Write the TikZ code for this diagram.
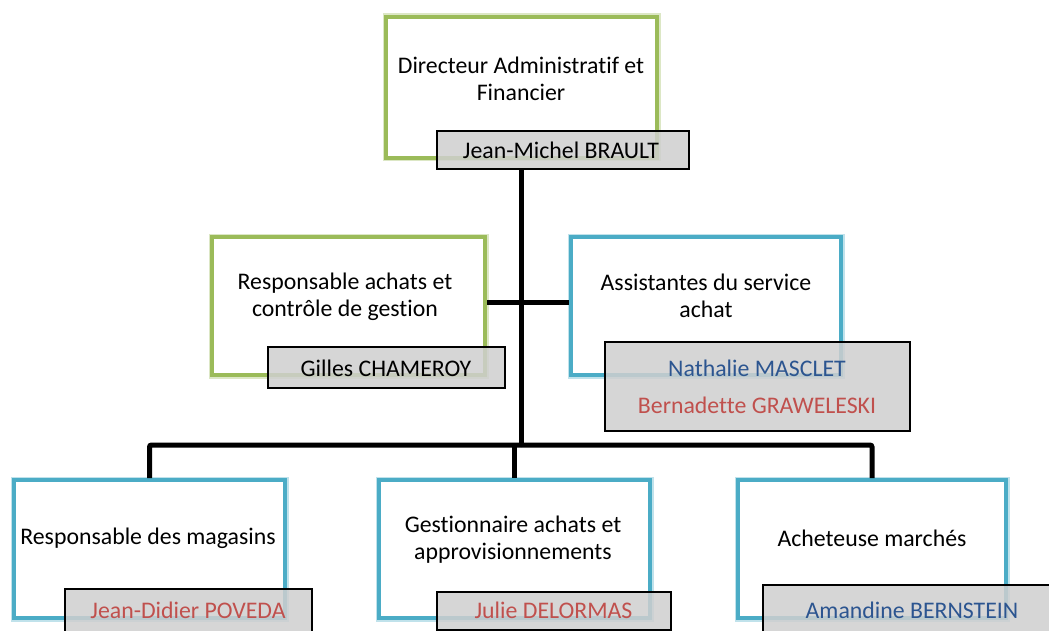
\documentclass[tikz,border=0pt]{standalone}
\usepackage{fontspec}
\setmainfont[Ligatures=NoCommon]{Carlito}
\definecolor{boxgreen}{HTML}{9BBB59}
\definecolor{boxblue}{HTML}{4BACC6}
\definecolor{namegray}{HTML}{CFCFCF}
\definecolor{namered}{HTML}{C0504D}
\definecolor{nameblue}{HTML}{2C5590}
\tikzset{
  gbox/.style={draw=boxgreen, line width=4pt, fill=white, inner sep=0pt,
    preaction={draw=boxgreen!35, line width=7pt}},
  bbox/.style={draw=boxblue, line width=4pt, fill=white, inner sep=0pt,
    preaction={draw=boxblue!35, line width=7pt}},
  namebox/.style={draw=black, line width=1.3pt, fill=namegray, fill opacity=0.85, inner sep=0pt},
  lbl/.style={align=center, inner sep=0pt, font=\fontsize{23.8}{27}\selectfont},
  conn/.style={draw=black, line width=5pt, rounded corners=2pt}
}
\begin{document}
\begin{tikzpicture}[x=1pt,y=-1pt]
\useasboundingbox (0,0) rectangle (1049,631);
\clip (0,0) rectangle (1049,631);
% coordinates
\coordinate (j1) at (521,302);
\coordinate (j2) at (521,445);
% boxes
\node[gbox, minimum width=271pt, minimum height=141pt] (dir) at (521.5,87.5) {};
\node[gbox, minimum width=273pt, minimum height=138pt] (resp) at (348.5,306) {};
\node[bbox, minimum width=270pt, minimum height=138pt] (assist) at (706,306) {};
\node[bbox, minimum width=271pt, minimum height=138pt] (mag) at (149.5,549) {};
\node[bbox, minimum width=271pt, minimum height=138pt] (gest) at (514.5,549) {};
\node[bbox, minimum width=268pt, minimum height=138pt] (ach) at (872,549) {};
% name boxes
\node[namebox, minimum width=252pt, minimum height=38pt] (dirN) at (563,150) {};
\node[namebox, minimum width=237pt, minimum height=41pt] (respN) at (386.5,367.5) {};
\node[namebox, minimum width=305pt, minimum height=89pt] (assistN) at (757.5,386.5) {};
\node[namebox, minimum width=247pt, minimum height=51pt] (magN) at (188.5,614.5) {};
\node[namebox, minimum width=234pt, minimum height=38pt] (gestN) at (554,611) {};
\node[namebox, minimum width=297pt, minimum height=55pt] (achN) at (911.5,612.5) {};
% connectors
\draw[conn] (dirN.south -| j1) -- (j2);
\draw[conn] (resp.east |- j1) -- (assist.west |- j1);
\draw[conn] (j2) -| (mag.north);
\draw[conn] (j2) -| (ach.north);
\draw[conn] (gest.north |- j2) -- (gest.north);
% texts
\node[lbl] (dirT) at (521,79) {Directeur Administratif et\\Financier};
\node[lbl] (dirNT) at (561,150) {Jean-Michel BRAULT};
\node[lbl] (respT) at (345,297) {Responsable achats et\\contrôle de gestion};
\node[lbl] (respNT) at (386,368) {Gilles CHAMEROY};
\node[lbl] (assistT) at (706,296) {Assistantes du service\\achat};
\node[lbl, text=nameblue] (assistNT1) at (757,368) {Nathalie MASCLET};
\node[lbl, text=namered] (assistNT2) at (757,405) {Bernadette GRAWELESKI};
\node[lbl] (magT) at (148,538) {Responsable des magasins};
\node[lbl, text=namered] (magNT) at (188,610) {Jean-Didier POVEDA};
\node[lbl] (gestT) at (513,540) {Gestionnaire achats et\\approvisionnements};
\node[lbl, text=namered] (gestNT) at (553.5,610) {Julie DELORMAS};
\node[lbl] (achT) at (872,538) {Acheteuse marchés};
\node[lbl, text=nameblue] (achNT) at (912,610) {Amandine BERNSTEIN};
\end{tikzpicture}
\end{document}
